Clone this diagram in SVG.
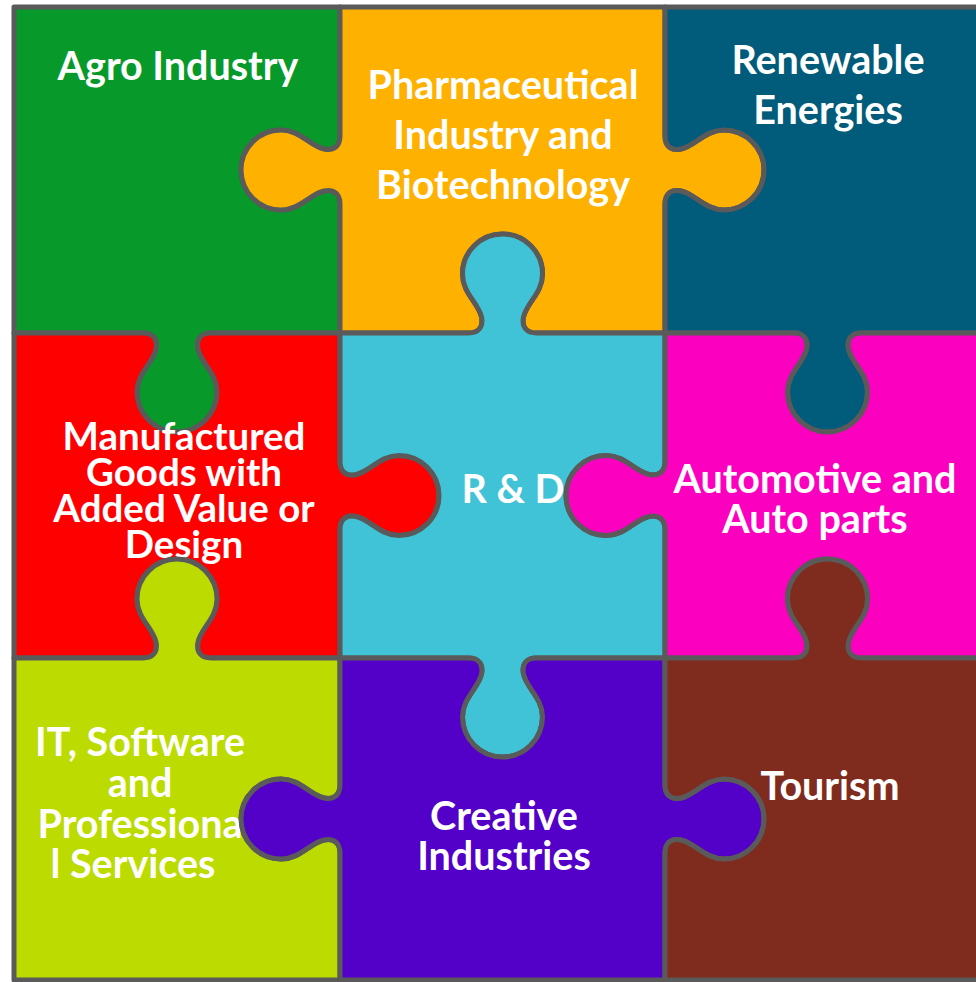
<svg xmlns="http://www.w3.org/2000/svg" width="976" height="982" viewBox="0 0 976 982">
<style>
.p{stroke:#5a5a5a;stroke-width:5;stroke-linejoin:round}
.t{font-family:Lato,"Open Sans",sans-serif;font-weight:bold;fill:#ffffff;text-anchor:middle;font-size:39.5px}
.s{font-size:38.5px}
</style>
<rect x="0" y="0" width="976" height="982" fill="#ffffff"/>
<g id="agro">
<path class="p" fill="#079a2b" d="M14,7 H340 V136 c0,10 -6,15 -16,13 c-14,-3 -24,-19 -43,-19 c-22,0 -40,18 -40,40 c0,22 18,40 40,40 c19,0 29,-16 43,-19 c10,-2 16,3 16,13 V333 H211 c-10,0 -15,6 -13,16 c3,14 19,24 19,43 c0,22 -18,40 -40,40 c-22,0 -40,-18 -40,-40 c0,-19 16,-29 19,-43 c2,-10 -3,-16 -13,-16 H14 Z"/>
<text class="t" x="178" y="80">Agro Industry</text>
</g>
<g id="pharma">
<path class="p" fill="#ffb100" d="M340,7 H665 V136 c0,10 6,15 16,13 c14,-3 24,-19 43,-19 c22,0 40,18 40,40 c0,22 -18,40 -40,40 c-19,0 -29,-16 -43,-19 c-10,-2 -16,3 -16,13 V333 H536.5 c-10,0 -15,-6 -13,-16 c3,-14 19,-24 19,-43 c0,-22 -18,-40 -40,-40 c-22,0 -40,18 -40,40 c0,19 16,29 19,43 c2,10 -3,16 -13,16 H340 V204 c0,-10 -6,-15 -16,-13 c-14,3 -24,19 -43,19 c-22,0 -40,-18 -40,-40 c0,-22 18,-40 40,-40 c19,0 29,16 43,19 c10,2 16,-3 16,-13 Z"/>
<text class="t" x="503" y="99">Pharmaceutical</text>
<text class="t" x="503" y="149">Industry and</text>
<text class="t" x="503" y="199">Biotechnology</text>
</g>
<g id="renewable">
<path class="p" fill="#015b7a" d="M665,7 H990 V333 H861.5 c-10,0 -15,6 -13,16 c3,14 19,24 19,43 c0,22 -18,40 -40,40 c-22,0 -40,-18 -40,-40 c0,-19 16,-29 19,-43 c2,-10 -3,-16 -13,-16 H665 V204 c0,-10 6,-15 16,-13 c14,3 24,19 43,19 c22,0 40,-18 40,-40 c0,-22 -18,-40 -40,-40 c-19,0 -29,16 -43,19 c-10,2 -16,-3 -16,-13 Z"/>
<text class="t" x="828" y="74">Renewable</text>
<text class="t" x="828" y="124">Energies</text>
</g>
<g id="manufactured">
<path class="p" fill="#ff0000" d="M14,333 H143 c10,0 15,6 13,16 c-3,14 -19,24 -19,43 c0,22 18,40 40,40 c22,0 40,-18 40,-40 c0,-19 -16,-29 -19,-43 c-2,-10 3,-16 13,-16 H340 V461.5 c0,10 6,15 16,13 c14,-3 24,-19 43,-19 c22,0 40,18 40,40 c0,22 -18,40 -40,40 c-19,0 -29,-16 -43,-19 c-10,-2 -16,3 -16,13 V658 H211 c-10,0 -15,-6 -13,-16 c3,-14 19,-24 19,-43 c0,-22 -18,-40 -40,-40 c-22,0 -40,18 -40,40 c0,19 16,29 19,43 c2,10 -3,16 -13,16 H14 Z"/>
<text class="t s" x="184" y="450">Manufactured</text>
<text class="t s" x="184" y="486">Goods with</text>
<text class="t s" x="184" y="522">Added Value or</text>
<text class="t s" x="184" y="558">Design</text>
</g>
<g id="rd">
<path class="p" fill="#40c3d6" d="M340,333 H468.5 c10,0 15,-6 13,-16 c-3,-14 -19,-24 -19,-43 c0,-22 18,-40 40,-40 c22,0 40,18 40,40 c0,19 -16,29 -19,43 c-2,10 3,16 13,16 H665 V461.5 c0,10 -6,15 -16,13 c-14,-3 -24,-19 -43,-19 c-22,0 -40,18 -40,40 c0,22 18,40 40,40 c19,0 29,-16 43,-19 c10,-2 16,3 16,13 V658 H536.5 c-10,0 -15,6 -13,16 c3,14 19,24 19,43 c0,22 -18,40 -40,40 c-22,0 -40,-18 -40,-40 c0,-19 16,-29 19,-43 c2,-10 -3,-16 -13,-16 H340 V529.5 c0,-10 6,-15 16,-13 c14,3 24,19 43,19 c22,0 40,-18 40,-40 c0,-22 -18,-40 -40,-40 c-19,0 -29,16 -43,19 c-10,2 -16,-3 -16,-13 Z"/>
<text class="t" x="513" y="503">R &amp; D</text>
</g>
<g id="automotive">
<path class="p" fill="#fb00bf" d="M665,333 H793.5 c10,0 15,6 13,16 c-3,14 -19,24 -19,43 c0,22 18,40 40,40 c22,0 40,-18 40,-40 c0,-19 -16,-29 -19,-43 c-2,-10 3,-16 13,-16 H990 V658 H861.5 c-10,0 -15,-6 -13,-16 c3,-14 19,-24 19,-43 c0,-22 -18,-40 -40,-40 c-22,0 -40,18 -40,40 c0,19 16,29 19,43 c2,10 -3,16 -13,16 H665 V529.5 c0,-10 -6,-15 -16,-13 c-14,3 -24,19 -43,19 c-22,0 -40,-18 -40,-40 c0,-22 18,-40 40,-40 c19,0 29,16 43,19 c10,2 16,-3 16,-13 Z"/>
<text class="t" x="815" y="493">Automotive and</text>
<text class="t" x="815" y="533">Auto parts</text>
</g>
<g id="it">
<path class="p" fill="#bcdb00" d="M14,658 H143 c10,0 15,-6 13,-16 c-3,-14 -19,-24 -19,-43 c0,-22 18,-40 40,-40 c22,0 40,18 40,40 c0,19 -16,29 -19,43 c-2,10 3,16 13,16 H340 V785 c0,10 -6,15 -16,13 c-14,-3 -24,-19 -43,-19 c-22,0 -40,18 -40,40 c0,22 18,40 40,40 c19,0 29,-16 43,-19 c10,-2 16,3 16,13 V980 H14 Z"/>
<text class="t" x="140" y="756">IT, Software</text>
<text class="t" x="140" y="797">and</text>
<text class="t" x="140" y="838">Professiona</text>
<text class="t" x="133" y="878">l Services</text>
</g>
<g id="creative">
<path class="p" fill="#5300c8" d="M340,658 H468.5 c10,0 15,6 13,16 c-3,14 -19,24 -19,43 c0,22 18,40 40,40 c22,0 40,-18 40,-40 c0,-19 -16,-29 -19,-43 c-2,-10 3,-16 13,-16 H665 V785 c0,10 6,15 16,13 c14,-3 24,-19 43,-19 c22,0 40,18 40,40 c0,22 -18,40 -40,40 c-19,0 -29,-16 -43,-19 c-10,-2 -16,3 -16,13 V980 H340 V853 c0,-10 -6,-15 -16,-13 c-14,3 -24,19 -43,19 c-22,0 -40,-18 -40,-40 c0,-22 18,-40 40,-40 c19,0 29,16 43,19 c10,2 16,-3 16,-13 Z"/>
<text class="t" x="504" y="830">Creative</text>
<text class="t" x="504" y="870">Industries</text>
</g>
<g id="tourism">
<path class="p" fill="#7f2c1e" d="M665,658 H793.5 c10,0 15,-6 13,-16 c-3,-14 -19,-24 -19,-43 c0,-22 18,-40 40,-40 c22,0 40,18 40,40 c0,19 -16,29 -19,43 c-2,10 3,16 13,16 H990 V980 H665 V853 c0,-10 6,-15 16,-13 c14,3 24,19 43,19 c22,0 40,-18 40,-40 c0,-22 -18,-40 -40,-40 c-19,0 -29,16 -43,19 c-10,2 -16,-3 -16,-13 Z"/>
<text class="t" x="830" y="800">Tourism</text>
</g>
</svg>
